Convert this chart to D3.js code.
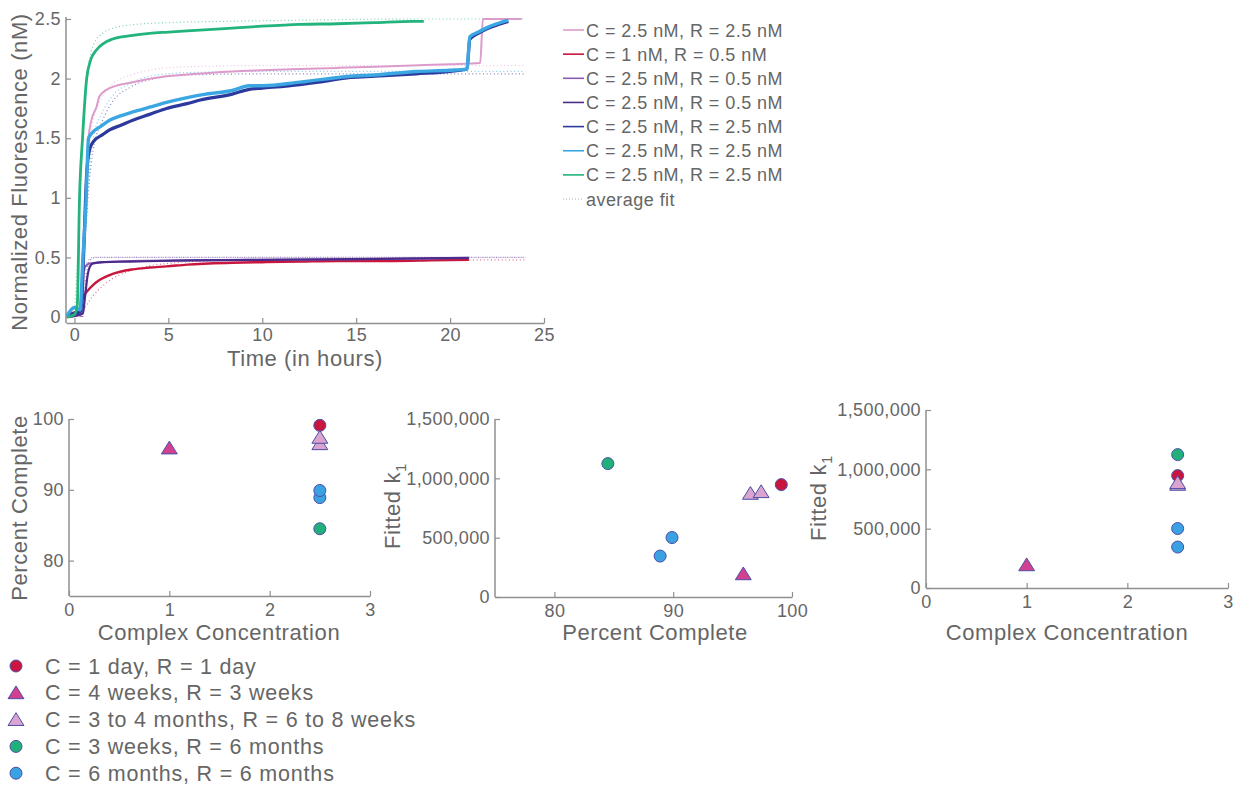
<!DOCTYPE html>
<html><head><meta charset="utf-8">
<script src="https://cdn.jsdelivr.net/npm/d3@7"></script>
<style>
body{margin:0;background:#fff;}
svg text{font-family:"Liberation Sans",Arial,sans-serif;fill:#666;}
</style></head>
<body>
<svg id="c" width="1236" height="787"></svg>
<script>
// ---------- Top chart data (time in hours, normalized fluorescence nM) ----------
const seriesLabels = ["C = 2.5 nM, R = 2.5 nM","C = 1 nM, R = 0.5 nM","C = 2.5 nM, R = 0.5 nM","C = 2.5 nM, R = 0.5 nM","C = 2.5 nM, R = 2.5 nM","C = 2.5 nM, R = 2.5 nM","C = 2.5 nM, R = 2.5 nM"];
const seriesColors = ["#dc9bcb","#c8163e","#8a5cb4","#4a2c8c","#2b3a9c","#3aa6e2","#22b47c"];
const pinkData = [[-0.4,0],[0.4,0.02],[0.5,0.4],[0.6,1.0],[0.75,1.5],[0.9,1.65],[1.17,1.76],[1.33,1.85],[1.87,1.92],[3.1,1.97],[4.9,2.02],[6.5,2.04],[8.4,2.06],[10,2.07],[12,2.08],[14,2.09],[16,2.1],[18,2.11],[20,2.12],[21.6,2.13],[21.75,2.5],[23.8,2.5]];
const redData = [[-0.4,0.02],[0,0.04],[0.2,0.05],[0.35,0.1],[0.45,0.16],[0.7,0.22],[1,0.27],[1.33,0.31],[2,0.36],[3.1,0.4],[4,0.415],[4.9,0.425],[6,0.44],[8.4,0.455],[10,0.46],[12,0.465],[14,0.47],[17,0.47],[19,0.475],[21,0.48]];
const purpleData = [[-0.4,0],[0.25,0.02],[0.35,0.15],[0.45,0.35],[0.6,0.43],[0.8,0.45],[1.5,0.46],[3,0.47],[6,0.475],[10,0.48],[15,0.485],[21,0.495]];
const darkPurpleData = [[-0.4,0],[0.45,0.03],[0.55,0.15],[0.7,0.35],[0.85,0.43],[1,0.45],[1.5,0.46],[3,0.465],[6,0.475],[10,0.48],[15,0.485],[21,0.497]];
const darkBlueData = [[-0.4,0.01],[0,0.03],[0.35,0.05],[0.5,0.6],[0.65,1.2],[0.8,1.4],[1,1.47],[1.5,1.53],[1.87,1.57],[2.5,1.61],[3.1,1.65],[4,1.7],[4.9,1.75],[6,1.79],[6.7,1.82],[8.4,1.87],[9.3,1.91],[10,1.92],[12,1.95],[13,1.97],[14.7,2.01],[16,2.02],[18.2,2.04],[20,2.06],[20.9,2.08],[21.05,2.33],[21.5,2.38],[22,2.42],[22.5,2.45],[23.1,2.48]];
const lightBlueData = [[-0.4,0.01],[0,0.08],[0.3,0.06],[0.45,0.5],[0.6,0.9],[0.75,1.5],[0.97,1.55],[1.4,1.6],[1.87,1.65],[2.5,1.69],[3.1,1.72],[4,1.76],[4.9,1.8],[6,1.84],[7,1.87],[8.4,1.9],[9.3,1.94],[10,1.94],[12,1.97],[14.7,2.02],[16,2.03],[18.2,2.06],[20,2.07],[20.9,2.08],[21.05,2.35],[21.5,2.39],[22,2.43],[22.5,2.46],[23.1,2.49]];
const greenData = [[-0.4,0],[0,0.02],[0.15,0.1],[0.27,1.0],[0.43,1.5],[0.65,2.0],[0.85,2.15],[1.17,2.24],[1.5,2.29],[2,2.33],[3,2.36],[4,2.38],[5,2.39],[6,2.4],[8,2.42],[10,2.44],[12,2.455],[14,2.46],[16,2.47],[18,2.48],[18.6,2.48]];
// fitted curves (dotted, "average fit")
const pinkFit = [[0.4,0],[0.6,0.9],[0.8,1.4],[1,1.65],[1.5,1.85],[2,1.95],[3,2.03],[4,2.07],[6,2.1],[10,2.11],[24,2.11]];
const redFit = [[0.3,0],[0.5,0.06],[1,0.18],[1.5,0.26],[2,0.32],[3,0.39],[4,0.43],[5,0.45],[7,0.47],[10,0.48],[24,0.48]];
const purpleFit = [[0.3,0],[0.5,0.3],[0.7,0.47],[1,0.5],[24,0.5]];
const darkPurpleFit = [[0.45,0],[0.6,0.3],[0.8,0.47],[1.1,0.5],[24,0.5]];
const darkBlueFit = [[0.4,0],[0.6,0.7],[0.8,1.15],[1,1.4],[1.5,1.65],[2,1.8],[3,1.93],[4,1.99],[6,2.03],[10,2.04],[24,2.04]];
const lightBlueFit = [[0.4,0],[0.6,0.8],[0.8,1.25],[1,1.5],[1.5,1.72],[2,1.85],[3,1.96],[4,2.02],[6,2.05],[10,2.06],[24,2.06]];
const greenFit = [[0,0],[0.25,0.8],[0.5,1.7],[0.75,2.1],[1,2.28],[1.5,2.38],[2,2.42],[3,2.45],[5,2.47],[8,2.48],[12,2.49],[18,2.5],[24,2.5]];
const topXTicks = [0,5,10,15,20,25];
const topYTicks = [0,0.5,1,1.5,2,2.5];

// ---------- Bottom scatter data ----------
const groupLabels = ["C = 1 day, R = 1 day","C = 4 weeks, R = 3 weeks","C = 3 to 4 months, R = 6 to 8 weeks","C = 3 weeks, R = 6 months","C = 6 months, R = 6 months"];
const groupColors = ["#c8163e","#d2408f","#dba3cf","#22b07a","#3aa2e2"];
const groupShapes = ["circle","triangle","triangle","circle","circle"];
const groupOf = [0,1,2,2,3,4,4];
const concentration = [2.5,1,2.5,2.5,2.5,2.5,2.5];
const percentComplete = [99.1,95.9,96.5,97.4,84.5,88.9,89.9];
const fittedK1 = [947000,195000,873000,887000,1124000,345000,501000];
const concTicks = [0,1,2,3];
const pctTicks = [80,90,100];
const k1Ticks = [0,500000,1000000,1500000];

// ---------- drawing ----------
const svg = d3.select("#c");
const AX = "#8f8f8f";
const TICKFS = 18, TITLEFS = 22;

function styleAxis(g){
  g.select(".domain").attr("stroke",AX).attr("stroke-width",1.5);
  g.selectAll(".tick line").attr("stroke",AX).attr("stroke-width",1.2);
  g.selectAll(".tick text").attr("fill","#666").style("font-size",TICKFS+"px")
    .style("letter-spacing","0.4px").style("font-family","Liberation Sans, Arial, sans-serif");
}
function title(sel){ return sel.style("font-size",TITLEFS+"px").style("letter-spacing","0.6px"); }

// top chart
const tx = d3.scaleLinear().domain([-0.45,25]).range([66,544]);
const ty = d3.scaleLinear().domain([-0.05,2.5]).range([323,19]);
const gx = svg.append("g").attr("transform","translate(0,323)")
  .call(d3.axisBottom(tx).tickValues(topXTicks).tickSizeInner(-5).tickSizeOuter(0).tickPadding(5).tickFormat(d3.format("d")));
styleAxis(gx);
const gy = svg.append("g").attr("transform","translate(66,0)")
  .call(d3.axisLeft(ty).tickValues(topYTicks).tickSizeInner(-5).tickSizeOuter(0).tickPadding(5).tickFormat(d=>String(d)));
styleAxis(gy);
gy.select(".domain").attr("d","M0,17V323");

const line = d3.line().x(d=>tx(d[0])).y(d=>ty(d[1])).curve(d3.curveMonotoneX);
const fits = [pinkFit,redFit,purpleFit,darkPurpleFit,darkBlueFit,lightBlueFit,greenFit];
fits.forEach((f,i)=>{
  svg.append("path").datum(f).attr("d",line).attr("fill","none")
    .attr("stroke",seriesColors[i]).attr("stroke-opacity",0.6).attr("stroke-width",1.2)
    .attr("stroke-dasharray","1,2.6");
});
const solids = [pinkData,redData,purpleData,darkPurpleData,darkBlueData,lightBlueData,greenData];
const widths = [2,2.4,2,2.2,3.2,3.4,2.8];
solids.forEach((s,i)=>{
  svg.append("path").datum(s).attr("d",line).attr("fill","none")
    .attr("stroke",seriesColors[i]).attr("stroke-width",widths[i]).attr("stroke-linejoin","round");
});

title(svg.append("text").attr("transform","translate(27,172) rotate(-90)").attr("text-anchor","middle"))
  .text("Normalized Fluorescence (nM)");
title(svg.append("text").attr("x",305).attr("y",366).attr("text-anchor","middle"))
  .text("Time (in hours)");

// top legend
const legY0 = 30, legDy = 24.15;
seriesLabels.forEach((lab,i)=>{
  const y = legY0 + i*legDy;
  svg.append("line").attr("x1",563).attr("x2",584).attr("y1",y).attr("y2",y).attr("stroke",seriesColors[i]).attr("stroke-width",1.6);
  svg.append("text").attr("x",586).attr("y",y+6.5).style("font-size","18px").style("letter-spacing","0.45px").text(lab);
});
{
  const y = legY0 + 7*legDy;
  svg.append("line").attr("x1",563).attr("x2",584).attr("y1",y).attr("y2",y).attr("stroke","#aab").attr("stroke-width",1).attr("stroke-dasharray","1,2");
  svg.append("text").attr("x",586).attr("y",y+6.5).style("font-size","18px").style("letter-spacing","0.45px").text("average fit");
}

// scatter helper
function marker(g, shape, color, x, y, size){
  if(shape==="circle"){
    g.append("circle").attr("cx",x).attr("cy",y).attr("r",size).attr("fill",color).attr("stroke","#4a4fa6").attr("stroke-width",1);
  } else {
    const s = size*1.15;
    g.append("path").attr("d",`M${x},${y-s}L${x+s*1.15},${y+s*0.85}L${x-s*1.15},${y+s*0.85}Z`)
      .attr("fill",color).attr("stroke","#4a4fa6").attr("stroke-width",1);
  }
}

function scatter(opts){
  const x = d3.scaleLinear().domain(opts.xd).range([opts.x0,opts.x1]);
  const y = d3.scaleLinear().domain(opts.yd).range([opts.y1,opts.y0]);
  const ax = svg.append("g").attr("transform",`translate(0,${opts.y1})`)
    .call(d3.axisBottom(x).tickValues(opts.xt).tickSizeInner(-5).tickSizeOuter(0).tickPadding(7).tickFormat(opts.xf));
  styleAxis(ax);
  const ay = svg.append("g").attr("transform",`translate(${opts.x0},0)`)
    .call(d3.axisLeft(y).tickValues(opts.yt).tickSizeInner(-5).tickSizeOuter(0).tickPadding(5).tickFormat(opts.yf));
  styleAxis(ay);
  ay.select(".domain").attr("d",`M0,${opts.y0}V${opts.y1}`);
  const g = svg.append("g");
  opts.xs.forEach((xv,i)=>{
    const gi = groupOf[i];
    marker(g, groupShapes[gi], groupColors[gi], x(xv), y(opts.ys[i]), 6);
  });
  return {x,y};
}
const fmtK = d3.format(",");
scatter({xd:[0,3],yd:[75,100],x0:69,x1:370,y0:419,y1:596,xt:concTicks,yt:pctTicks,xf:d3.format("d"),yf:d3.format("d"),xs:concentration,ys:percentComplete});
scatter({xd:[75,100],yd:[0,1500000],x0:495,x1:792,y0:419,y1:597,xt:pctTicks,yt:k1Ticks,xf:d3.format("d"),yf:fmtK,xs:percentComplete,ys:fittedK1});
scatter({xd:[0,3],yd:[0,1500000],x0:926,x1:1228,y0:410,y1:588,xt:concTicks,yt:k1Ticks,xf:d3.format("d"),yf:fmtK,xs:concentration,ys:fittedK1});

// bottom axis titles
function vtitle(x,y,txt,sub){
  const t = title(svg.append("text").attr("transform",`translate(${x},${y}) rotate(-90)`).attr("text-anchor","middle")).text(txt);
  if(sub) t.append("tspan").attr("dy",6).style("font-size","15px").text(sub);
}
vtitle(27,508,"Percent Complete");
vtitle(400,506,"Fitted k","1");
vtitle(826,498,"Fitted k","1");
title(svg.append("text").attr("x",219).attr("y",640).attr("text-anchor","middle")).text("Complex Concentration");
title(svg.append("text").attr("x",655).attr("y",640).attr("text-anchor","middle")).text("Percent Complete");
title(svg.append("text").attr("x",1067).attr("y",640).attr("text-anchor","middle")).text("Complex Concentration");

// bottom legend
const lg = svg.append("g");
groupLabels.forEach((lab,i)=>{
  const y = 666 + i*26.8;
  marker(lg, groupShapes[i], groupColors[i], 16, y, 6);
  svg.append("text").attr("x",45).attr("y",y+7.5).style("font-size","21.5px").style("letter-spacing","0.8px").text(lab);
});
</script>
</body></html>
